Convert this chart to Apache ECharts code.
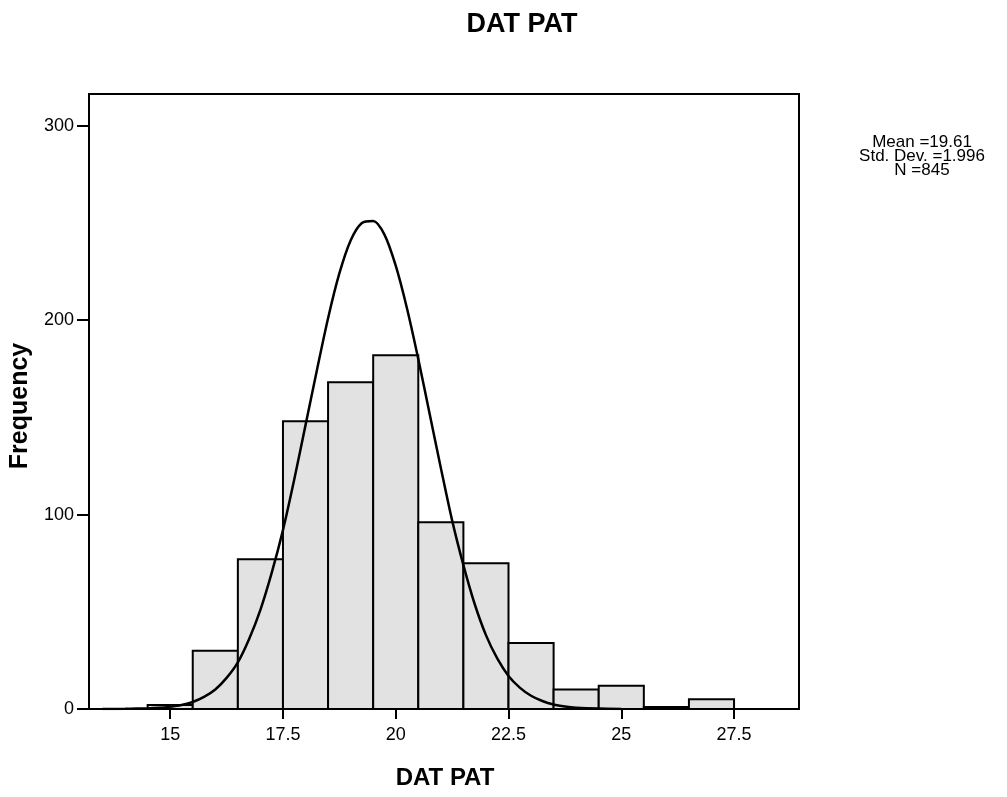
<!DOCTYPE html>
<html>
<head>
<meta charset="utf-8">
<script src="https://cdn.jsdelivr.net/npm/echarts@6/dist/echarts.min.js"></script>
<style>
html,body{margin:0;padding:0;background:#fff;}
#chart{width:1007px;height:797px;}
</style>
</head>
<body>
<div id="chart"></div>
<script>
// Histogram bins (lower edge, upper edge) and frequencies
const binStart = [14.5, 15.5, 16.5, 17.5, 18.5, 19.5, 20.5, 21.5, 22.5, 23.5, 24.5, 25.5, 26.5];
const binEnd   = [15.5, 16.5, 17.5, 18.5, 19.5, 20.5, 21.5, 22.5, 23.5, 24.5, 25.5, 26.5, 27.5];
const counts   = [2, 30, 77, 148, 168, 182, 96, 75, 34, 10, 12, 1, 5];

// Overlaid normal curve
const curveX = [13.5, 14, 14.25, 14.5, 14.75, 15, 15.25, 15.5, 15.75, 16, 16.25, 16.5, 16.75, 17, 17.25, 17.5, 17.75,
                18, 18.25, 18.5, 18.75, 19, 19.25, 19.5, 19.75, 20, 20.25, 20.5, 20.75, 21, 21.25, 21.5, 21.75,
                22, 22.25, 22.5, 22.75, 23, 23.25, 23.5, 23.75, 24, 24.5, 25];
const curveY = [0, 0.1, 0.2, 0.3, 0.6, 1.2, 2.1, 3.6, 6.2, 10, 16, 24, 36, 51, 70, 92, 118,
                146, 174, 201, 224, 241, 250, 251, 244, 228, 206, 180, 152, 124, 97, 74, 54,
                38, 26, 17, 11, 6.8, 4.1, 2.3, 1.3, 0.7, 0.2, 0.05];

const xTicks = [15, 17.5, 20, 22.5, 25, 27.5];
const yTicks = [0, 100, 200, 300];

const titleText = 'DAT PAT';
const xName = 'DAT PAT';
const yName = 'Frequency';
const statsLines = ['Mean =19.61', 'Std. Dev. =1.996', 'N =845'];

const FONT = '"Liberation Sans", Arial, sans-serif';

const barData = binStart.map((s, i) => [s, binEnd[i], counts[i]]);
const lineData = curveX.map((x, i) => [x, curveY[i]]);

const chart = echarts.init(document.getElementById('chart'), null, {renderer: 'canvas'});
chart.setOption({
  backgroundColor: '#ffffff',
  animation: false,
  grid: {
    left: 89, top: 94, width: 710, height: 615,
    show: true, borderColor: '#000', borderWidth: 2, backgroundColor: 'transparent'
  },
  xAxis: {
    type: 'value', min: 13.2, max: 28.94,
    axisLine: {show: true, onZero: false, lineStyle: {color: '#000', width: 2}},
    axisTick: {show: true, length: 10, customValues: xTicks, lineStyle: {color: '#000', width: 2}},
    axisLabel: {customValues: xTicks, color: '#000', fontSize: 18, fontFamily: FONT, margin: 17},
    splitLine: {show: false}
  },
  yAxis: {
    type: 'value', min: 0, max: 316.3,
    axisLine: {show: true, lineStyle: {color: '#000', width: 2}},
    axisTick: {show: true, length: 12, customValues: yTicks, lineStyle: {color: '#000', width: 2}},
    axisLabel: {customValues: yTicks, color: '#000', fontSize: 18, fontFamily: FONT, margin: 15},
    splitLine: {show: false}
  },
  series: [
    {
      type: 'custom',
      data: barData,
      encode: {x: [0, 1], y: 2},
      renderItem: function (params, api) {
        const p0 = api.coord([api.value(0), api.value(2)]);
        const p1 = api.coord([api.value(1), 0]);
        return {
          type: 'rect',
          shape: {x: p0[0], y: p0[1], width: p1[0] - p0[0], height: p1[1] - p0[1]},
          style: {fill: '#e2e2e2', stroke: '#000', lineWidth: 2}
        };
      },
      z: 2
    },
    {
      type: 'line',
      data: lineData,
      smooth: 0.3,
      showSymbol: false,
      symbol: 'none',
      lineStyle: {color: '#000', width: 2.5},
      z: 3
    }
  ],
  graphic: [
    {
      type: 'text', x: 522, y: 25,
      style: {text: titleText, font: 'bold 27px ' + FONT, fill: '#000', align: 'center', verticalAlign: 'middle'}
    },
    {
      type: 'text', x: 445, y: 778,
      style: {text: xName, font: 'bold 24px ' + FONT, fill: '#000', align: 'center', verticalAlign: 'middle'}
    },
    {
      type: 'text', x: 20, y: 406, rotation: Math.PI / 2,
      style: {text: yName, font: 'bold 25px ' + FONT, fill: '#000', align: 'center', verticalAlign: 'middle'}
    },
    {
      type: 'text', x: 922, y: 135,
      style: {text: statsLines.join('\n'), font: '17px ' + FONT, lineHeight: 14, fill: '#000', align: 'center', verticalAlign: 'top'}
    }
  ]
});
</script>
</body>
</html>
